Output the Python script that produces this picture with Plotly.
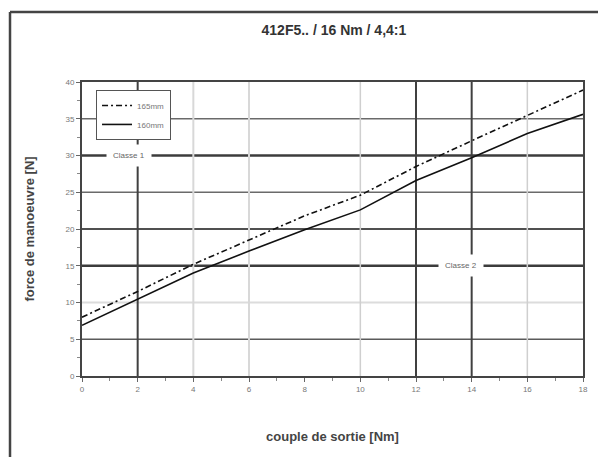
import plotly.graph_objects as go

# ---- data ----
torque = [0, 2, 4, 6, 8, 10, 12, 14, 16, 18]
force_165 = [8.0, 11.5, 15.2, 18.5, 21.8, 24.6, 28.5, 32.0, 35.5, 38.9]
force_160 = [6.9, 10.4, 14.0, 17.0, 19.9, 22.6, 26.6, 29.7, 33.0, 35.6]
series_names = ["165mm", "160mm"]
y_ticks = [0, 5, 10, 15, 20, 25, 30, 35, 40]
x_ticks = [0, 2, 4, 6, 8, 10, 12, 14, 16, 18]
classe_labels = ["Classe 1", "Classe 2"]
classe_levels = [30, 15]
classe_label_x = [1.7, 13.6]

# grid styling (value, colour, width)
h_grid = [(5, "#5a5a5a", 1.5), (10, "#dcdcdc", 2), (15, "#3c3c3c", 2.5),
          (20, "#505050", 2), (25, "#6a6a6a", 1.5), (30, "#3c3c3c", 2.5),
          (35, "#6a6a6a", 1.5)]
v_grid = [(2, "#404040", 2), (4, "#d8d8d8", 2), (6, "#d8d8d8", 2),
          (10, "#cfcfcf", 1.5), (12, "#404040", 2), (14, "#404040", 2),
          (16, "#cfcfcf", 1.5)]

FONT = "Liberation Sans, Arial, sans-serif"

fig = go.Figure()
fig.add_trace(go.Scatter(x=torque, y=force_165, mode="lines", name=series_names[0],
                         line=dict(color="#111111", width=1.6, dash="6px,3px,2px,3px")))
fig.add_trace(go.Scatter(x=torque, y=force_160, mode="lines", name=series_names[1],
                         line=dict(color="#111111", width=1.6)))

shapes = []
for v, c, w in h_grid:
    shapes.append(dict(type="line", xref="x", yref="y", x0=0, x1=18, y0=v, y1=v,
                       line=dict(color=c, width=w), layer="below"))
for v, c, w in v_grid:
    shapes.append(dict(type="line", xref="x", yref="y", x0=v, x1=v, y0=0, y1=40,
                       line=dict(color=c, width=w), layer="below"))
# outer frame (cut off at right / bottom)
shapes.append(dict(type="line", xref="paper", yref="paper", x0=-0.1437, x1=-0.1437,
                   y0=1.238, y1=-0.3, line=dict(color="#444", width=2.5)))
shapes.append(dict(type="line", xref="paper", yref="paper", x0=-0.1437, x1=1.1,
                   y0=1.238, y1=1.238, line=dict(color="#444", width=2.5)))

annotations = []
for lab, lvl, lx in zip(classe_labels, classe_levels, classe_label_x):
    annotations.append(dict(x=lx, y=lvl, xref="x", yref="y", text=lab, showarrow=False,
                            bgcolor="white", borderpad=6,
                            font=dict(size=8, color="#666", family=FONT)))

fig.update_layout(
    width=598, height=449,
    margin=dict(l=74, r=23, t=74, b=81),
    paper_bgcolor="white", plot_bgcolor="white",
    title=dict(text="<b>412F5.. / 16 Nm / 4,4:1</b>", x=0.545, xanchor="center",
               y=0.951, yanchor="middle",
               font=dict(size=14, color="#333", family=FONT)),
    shapes=shapes, annotations=annotations,
    legend=dict(x=0.028, y=0.973, xanchor="left", yanchor="top",
                bgcolor="white", bordercolor="#555", borderwidth=1,
                font=dict(size=8, color="#777", family=FONT),
                tracegroupgap=2, itemwidth=30),
    showlegend=True,
)
fig.update_xaxes(range=[0, 18], tickvals=x_ticks, ticktext=[str(t) for t in x_ticks],
                 showgrid=False, zeroline=False, showline=True, mirror=True,
                 linecolor="#444", linewidth=2, ticks="outside", ticklen=4,
                 tickcolor="#666", tickfont=dict(size=8, color="#777", family=FONT),
                 minor=dict(dtick=1, ticks="outside", ticklen=3, tickcolor="#888", showgrid=False),
                 title=dict(text="<b>couple de sortie [Nm]</b>", standoff=39,
                            font=dict(size=13, color="#444", family=FONT)))
fig.update_yaxes(range=[0, 40], tickvals=y_ticks, ticktext=[str(t) for t in y_ticks],
                 showgrid=False, zeroline=False, showline=True, mirror=True,
                 linecolor="#444", linewidth=2, ticks="outside", ticklen=4,
                 tickcolor="#666", tickfont=dict(size=8, color="#777", family=FONT),
                 minor=dict(dtick=2.5, ticks="outside", ticklen=3, tickcolor="#888", showgrid=False),
                 title=dict(text="<b>force de manoeuvre [N]</b>", standoff=28,
                            font=dict(size=13, color="#444", family=FONT)))

fig.write_html("out.html")
